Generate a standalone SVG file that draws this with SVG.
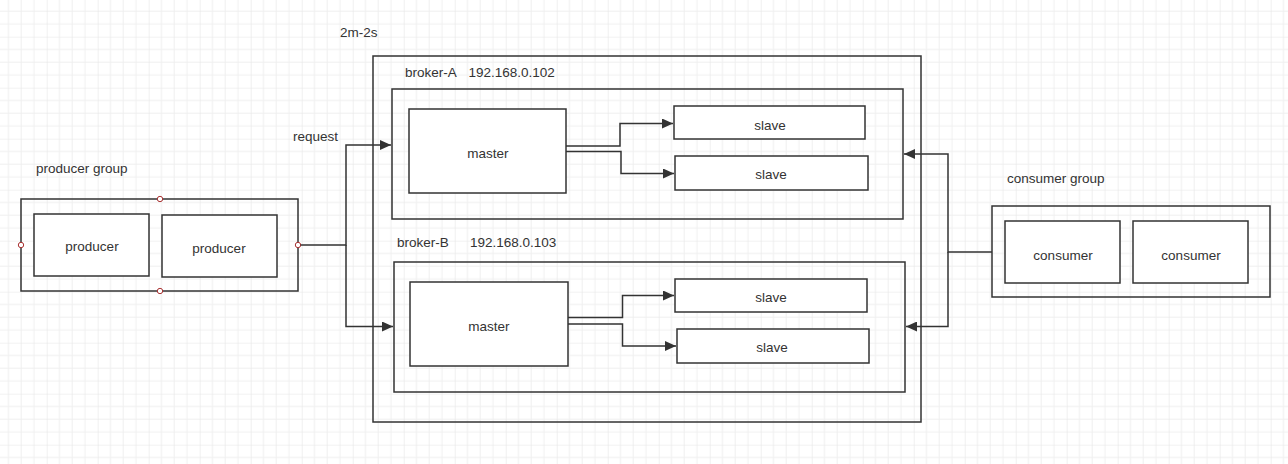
<svg xmlns="http://www.w3.org/2000/svg" width="1288" height="464" viewBox="0 0 1288 464">
<style>
.box{fill:#fff;stroke:#333;stroke-width:1.5}
.frame{fill:none;stroke:#333;stroke-width:1.5}
.t{font-family:"Liberation Sans",Arial,sans-serif;font-size:13.5px;fill:#333}
.c{text-anchor:middle;dominant-baseline:central}
.ln{fill:none;stroke:#333;stroke-width:1.5}
.pt{fill:#fff;stroke:#a33;stroke-width:1}
</style>
<defs>
<pattern id="grid" patternUnits="userSpaceOnUse" x="-4.3" y="-14.3" width="51" height="51">
<path d="M12.75 0V51M25.5 0V51M38.25 0V51M0 12.75H51M0 25.5H51M0 38.25H51" stroke="#efefef" stroke-width="1"/>
<path d="M0 0V51M0 0H51" stroke="#e6e6e6" stroke-width="1.2"/>
</pattern>
<marker id="arr" markerUnits="userSpaceOnUse" markerWidth="12" markerHeight="10" refX="11" refY="5" orient="auto">
<path d="M0 0L11 5L0 10z" fill="#333"/>
</marker>
</defs>
<rect width="1288" height="464" fill="#fff"/>
<rect width="1288" height="464" fill="url(#grid)"/>

<g id="producer-group">
<text class="t" x="36" y="173">producer group</text>
<rect class="frame" x="21" y="199" width="277" height="92"/>
<circle class="pt" cx="21" cy="245" r="2.7"/>
<circle class="pt" cx="160" cy="199" r="2.7"/>
<circle class="pt" cx="160" cy="291" r="2.7"/>
<circle class="pt" cx="298" cy="245" r="2.7"/>
</g>
<g id="producer-1"><rect class="box" x="34" y="214" width="115" height="62"/><text class="t c" x="92" y="246">producer</text></g>
<g id="producer-2"><rect class="box" x="162" y="215" width="115" height="62"/><text class="t c" x="219" y="248">producer</text></g>

<g id="broker-cluster">
<text class="t" x="340" y="37">2m-2s</text>
<rect class="frame" x="373" y="56" width="548" height="366"/>
</g>
<g id="broker-A">
<text class="t" x="405" y="77">broker-A</text>
<text class="t" x="468.5" y="77">192.168.0.102</text>
<rect class="frame" x="392" y="89" width="511" height="130"/>
</g>
<g id="master-A"><rect class="box" x="409" y="109" width="157" height="84"/><text class="t c" x="488" y="153">master</text></g>
<g id="slave-A1"><rect class="box" x="674" y="106" width="191" height="33"/><text class="t c" x="770" y="125">slave</text></g>
<g id="slave-A2"><rect class="box" x="675" y="156" width="193" height="34"/><text class="t c" x="771" y="174">slave</text></g>

<g id="broker-B">
<text class="t" x="397" y="247">broker-B</text>
<text class="t" x="470" y="247">192.168.0.103</text>
<rect class="frame" x="394" y="262" width="511" height="130"/>
</g>
<g id="master-B"><rect class="box" x="410" y="282" width="158" height="84"/><text class="t c" x="489" y="326">master</text></g>
<g id="slave-B1"><rect class="box" x="675" y="279" width="192" height="33"/><text class="t c" x="771" y="297">slave</text></g>
<g id="slave-B2"><rect class="box" x="677" y="329" width="192" height="34"/><text class="t c" x="772" y="347">slave</text></g>

<g id="consumer-group">
<text class="t" x="1007" y="183">consumer group</text>
<rect class="frame" x="992" y="206" width="278" height="91"/>
</g>
<g id="consumer-1"><rect class="box" x="1005" y="221" width="115" height="62"/><text class="t c" x="1063" y="255">consumer</text></g>
<g id="consumer-2"><rect class="box" x="1133" y="221" width="115" height="62"/><text class="t c" x="1191" y="255">consumer</text></g>

<g id="connectors">
<text class="t" x="293" y="141">request</text>
<path class="ln" d="M300.7 245H346V145H391" marker-end="url(#arr)"/>
<path class="ln" d="M346 245V326.5H393" marker-end="url(#arr)"/>
<path class="ln" d="M566 146H620V123.5H673" marker-end="url(#arr)"/>
<path class="ln" d="M566 151.5H621V173.5H674" marker-end="url(#arr)"/>
<path class="ln" d="M568 317.5H622.5V295.5H674" marker-end="url(#arr)"/>
<path class="ln" d="M568 324H622.5V346H676" marker-end="url(#arr)"/>
<path class="ln" d="M992 252H948V154H904" marker-end="url(#arr)"/>
<path class="ln" d="M948 252V326.5H906" marker-end="url(#arr)"/>
</g>
</svg>
